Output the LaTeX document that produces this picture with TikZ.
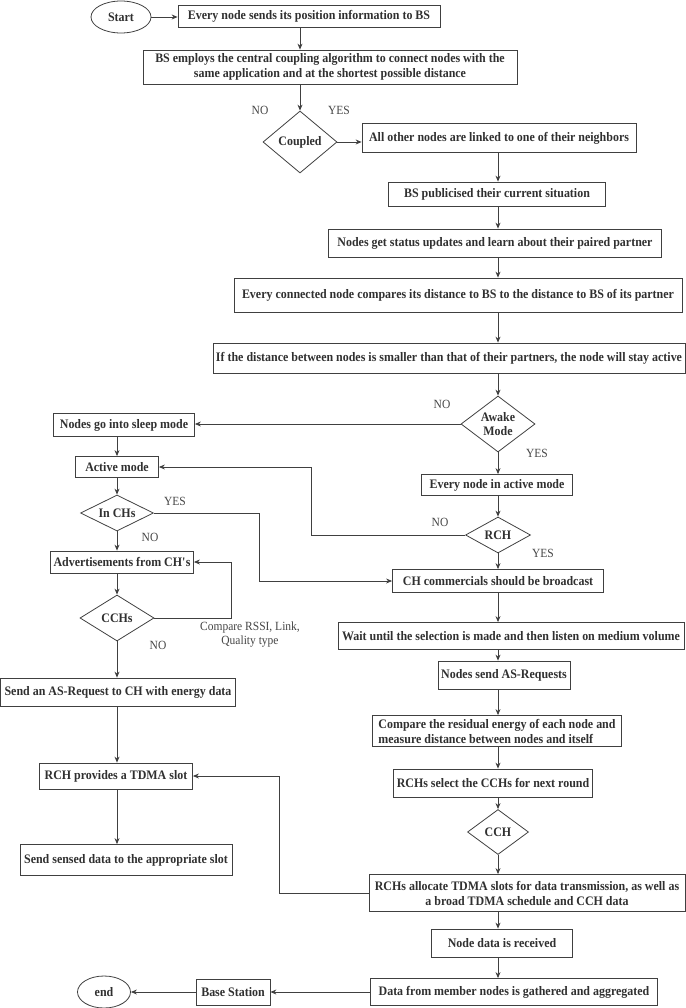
\documentclass[tikz,border=0pt]{standalone}
\usepackage{fontspec}
\setmainfont{Liberation Serif}
\newfontfamily\boxfont{Liberation Serif}[FakeStretch=0.92]
\usetikzlibrary{shapes.geometric, arrows.meta}

\definecolor{linegray}{HTML}{404040}
\definecolor{textgray}{HTML}{303030}

\tikzset{
  process/.style={draw=linegray, line width=0.8pt, text=textgray, align=center,
    font=\boxfont\bfseries\fontsize{13}{15}\selectfont, inner xsep=3pt, inner ysep=2pt,
    minimum height=24pt},
  decision/.style={draw=linegray, line width=0.8pt, diamond, text=textgray, align=center,
    font=\boxfont\bfseries\fontsize{13}{14}\selectfont, inner sep=0pt},
  terminal/.style={draw=linegray, line width=0.8pt, ellipse, text=textgray,
    font=\boxfont\bfseries\fontsize{13}{14}\selectfont, minimum height=32pt},
  flow/.style={draw=linegray, line width=0.8pt, -{Stealth[length=6pt,width=5pt]}},
  note/.style={text=textgray!90, font=\boxfont\fontsize{12.5}{14}\selectfont, align=center}
}

\begin{document}
\begin{tikzpicture}[x=1pt, y=-1pt]
\useasboundingbox (0,0) rectangle (685,1008);

% Start and coupling
\node[terminal, minimum width=60pt] (start) at (121,17) {Start};
\node[process, minimum width=262pt, minimum height=22pt] (send) at (309,16) {Every node sends its position information to BS};
\node[process, minimum width=374pt, minimum height=34pt] (couple) at (330,67) {BS employs the central coupling algorithm to connect nodes with the\\same application and at the shortest possible distance};
\node[decision, minimum width=74pt, minimum height=62pt, shape aspect=1.2] (coupled) at (300,142) {Coupled};
\node[process, minimum width=274pt, minimum height=29pt] (linked) at (499,138) {All other nodes are linked to one of their neighbors};
\node[process, minimum width=217pt] (publ) at (497,194) {BS publicised their current situation};
\node[process, minimum width=333pt, minimum height=28pt] (status) at (495,243) {Nodes get status updates and learn about their paired partner};
\node[process, minimum width=448pt, minimum height=34pt] (compare) at (458,295) {Every connected node compares its distance to BS to the distance to BS of its partner};
\node[process, minimum width=472pt, minimum height=30pt] (stay) at (449,358) {If the distance between nodes is smaller than that of their partners, the node will stay active};

% Awake decision
\node[decision, minimum width=74pt, minimum height=56pt, shape aspect=1.3] (awake) at (498,424) {Awake\\Mode};
\node[process, minimum width=141pt, minimum height=23pt] (sleep) at (124,425) {Nodes go into sleep mode};
\node[process, minimum width=83pt, minimum height=21pt] (active) at (117,467) {Active mode};
\node[process, minimum width=151pt, minimum height=21pt] (allact) at (497,485) {Every node in active mode};
\node[decision, minimum width=73pt, minimum height=36pt, shape aspect=2] (inch) at (117,513) {In CHs};
\node[decision, minimum width=65pt, minimum height=36pt, shape aspect=1.8] (rch) at (498,535) {RCH};

% Cluster heads
\node[process, minimum width=143pt, minimum height=22pt] (advert) at (122,562) {Advertisements from CH\textquotesingle s};
\node[process, minimum width=211pt, minimum height=23pt] (commer) at (498,581) {CH commercials should be broadcast};
\node[decision, minimum width=74pt, minimum height=46pt, shape aspect=1.6] (cchs) at (117,618) {CCHs};
\node[process, minimum width=346pt, minimum height=27pt] (wait) at (511,636) {Wait until the selection is made and then listen on medium volume};
\node[process, minimum width=132pt, minimum height=28pt] (asreq) at (504,675) {Nodes send AS-Requests};
\node[process, minimum width=235pt, minimum height=28pt] (sendreq) at (118,692) {Send an AS-Request to CH with energy data};
\node[process, minimum width=249pt, minimum height=31pt, align=left] (resid) at (497,731) {Compare the residual energy of each node and\\measure distance between nodes and itself};
\node[process, minimum width=153pt, minimum height=26pt] (tdma) at (116,776) {RCH provides a TDMA slot};
\node[process, minimum width=198pt, minimum height=28pt] (select) at (493,783) {RCHs select the CCHs for next round};
\node[decision, minimum width=61pt, minimum height=45pt, shape aspect=1.4] (cch) at (498,832) {CCH};
\node[process, minimum width=212pt, minimum height=31pt] (sensed) at (126,860) {Send sensed data to the appropriate slot};
\node[process, minimum width=316pt, minimum height=37pt] (alloc) at (527,893) {RCHs allocate TDMA slots for data transmission, as well as\\a broad TDMA schedule and CCH data};

% End
\node[process, minimum width=141pt, minimum height=28pt] (recv) at (502,943) {Node data is received};
\node[process, minimum width=287pt, minimum height=27pt] (gather) at (514,992) {Data from member nodes is gathered and aggregated};
\node[process, minimum width=74pt, minimum height=26pt] (bs) at (233,992) {Base Station};
\node[terminal, minimum width=53pt] (finish) at (104,992) {end};

% Labels
\node[note] (no1) at (260,110) {NO};
\node[note] (yes1) at (339,110) {YES};
\node[note] (no2) at (442,404) {NO};
\node[note] (yes2) at (537,453) {YES};
\node[note] (yes3) at (175,501) {YES};
\node[note] (no3) at (150,537) {NO};
\node[note] (no4) at (440,522) {NO};
\node[note] (yes4) at (543,553) {YES};
\node[note] (no5) at (158,645) {NO};
\node[note] (rssi) at (250,635) {Compare RSSI, Link,\\Quality type};

% Connectors
\draw[flow] (start.east) -- (start.east -| send.west);
\draw[flow] (send.south -| coupled) -- (couple.north -| coupled);
\draw[flow] (couple.south -| coupled) -- (coupled.north);
\draw[flow] (coupled.east) -- (coupled.east -| linked.west);
\foreach \a/\b in {linked/publ, publ/status, status/compare, compare/stay}
  \draw[flow] (\a.south -| awake) -- (\b.north -| awake);
\draw[flow] (stay.south -| awake) -- (awake.north);
\draw[flow] (awake.west) -- (awake.west -| sleep.east);
\draw[flow] (awake.south) -- (allact.north -| awake);
\draw[flow] (allact.south -| rch) -- (rch.north);
\draw[flow] (rch.west) -- ++(-154,0) |- (active.east);
\draw[flow] (rch.south) -- (commer.north -| rch);

% left column
\foreach \a/\b in {sleep/active, active/inch, inch/advert, advert/cchs, cchs/sendreq, sendreq/tdma, tdma/sensed}
  \draw[flow] (\a.south -| inch) -- (\b.north -| inch);
\draw[flow] (inch.east) -- ++(105,0) |- (commer.west);
\draw[flow] (cchs.east) -- ++(77,0) |- (advert.east);

% right column
\foreach \a/\b in {commer/wait, wait/asreq, asreq/resid, resid/select, select/cch, cch/alloc, alloc/recv, recv/gather}
  \draw[flow] (\a.south -| cch) -- (\b.north -| cch);
\draw[flow] (alloc.west) -- ++(-89,0) |- (tdma.east);
\draw[flow] (gather.west) -- (bs.east);
\draw[flow] (bs.west) -- (finish.east);

\end{tikzpicture}
\end{document}
